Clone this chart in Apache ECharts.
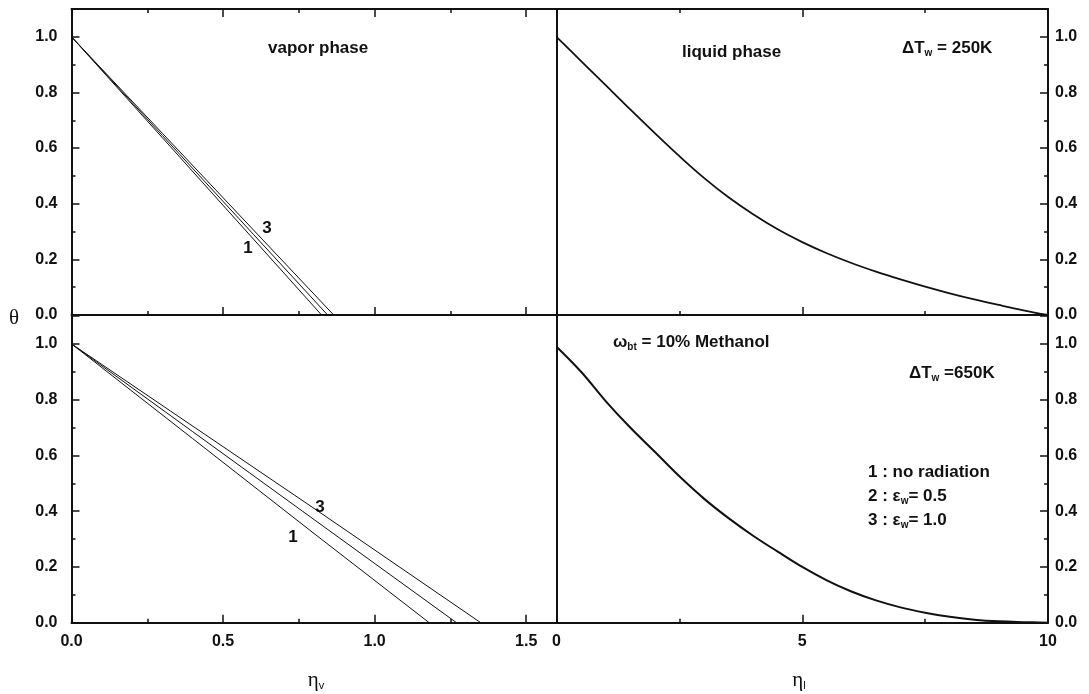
<!DOCTYPE html>
<html>
<head>
<meta charset="utf-8">
<style>html,body{margin:0;padding:0;background:#fff}</style>
</head>
<body>
<div id="chart" style="width:1089px;height:694px"></div>
<script src="https://cdn.jsdelivr.net/npm/echarts@6/dist/echarts.min.js"></script>
<script>
var myChart = echarts.init(document.getElementById('chart'));

// vapor phase, dTw = 250K  (curves 1, 2, 3)
let vapTopEta1 = [0, 0.3, 0.6, 0.825]
let vapTopTheta1 = [1.0, 0.637, 0.273, 0]
let vapTopEta2 = [0, 0.3, 0.6, 0.845]
let vapTopTheta2 = [1.0, 0.645, 0.29, 0]
let vapTopEta3 = [0, 0.3, 0.6, 0.865]
let vapTopTheta3 = [1.0, 0.653, 0.306, 0]

// vapor phase, dTw = 650K
let vapBotEta1 = [0, 0.4, 0.8, 1.18]
let vapBotTheta1 = [1.0, 0.66, 0.32, 0]
let vapBotEta2 = [0, 0.4, 0.8, 1.27]
let vapBotTheta2 = [1.0, 0.685, 0.37, 0]
let vapBotEta3 = [0, 0.4, 0.8, 1.35]
let vapBotTheta3 = [1.0, 0.705, 0.41, 0]

// liquid phase (the three curves coincide)
let liqEta = [0, 0.5, 1, 1.5, 2, 2.5, 3, 3.5, 4, 4.5, 5, 5.5, 6, 6.5, 7, 7.5, 8, 8.5, 9, 9.5, 10]
let liqTopTheta = [1.0, 0.913, 0.826, 0.739, 0.654, 0.571, 0.493, 0.423, 0.362, 0.308, 0.262,
                   0.222, 0.187, 0.156, 0.128, 0.102, 0.078, 0.056, 0.036, 0.017, 0]
let liqBotTheta = [0.99, 0.9, 0.795, 0.7, 0.613, 0.525, 0.445, 0.375, 0.312, 0.255, 0.2,
                   0.152, 0.112, 0.08, 0.055, 0.036, 0.021, 0.011, 0.005, 0.002, 0]

let vapTicks = [0, 0.5, 1.0, 1.5]
let liqTicks = [0, 5, 10]
let thetaTicks = [0, 0.2, 0.4, 0.6, 0.8, 1.0]

const ink = '#111';
const font = 'Liberation Sans';

function pairs(xs, ys) {
    return xs.map((x, i) => [x, ys[i]]);
}

function xAx(grid, max, step, pos, labels, ticks) {
    return {
        type: 'value', gridIndex: grid, min: 0, max: max, interval: step, position: pos,
        axisLine: {show: true, onZero: false, lineStyle: {color: ink, width: 2}},
        axisTick: {show: true, inside: true, length: 8, lineStyle: {color: ink, width: 1.5}},
        minorTick: {show: true, splitNumber: 2, length: 4, lineStyle: {color: ink, width: 1.5}},
        axisLabel: {
            show: labels, margin: 11, color: ink, fontFamily: font, fontWeight: 'bold', fontSize: 16,
            formatter: v => ticks.indexOf(v) >= 0 ? (step < 1 ? v.toFixed(1) : String(v)) : ''
        },
        splitLine: {show: false}, minorSplitLine: {show: false}
    };
}

function yAx(grid, pos, ticksOn, margin) {
    return {
        type: 'value', gridIndex: grid, min: 0, max: 1.1, interval: 0.2, position: pos,
        axisLine: {show: true, onZero: false, lineStyle: {color: ink, width: 2}},
        axisTick: {show: ticksOn, inside: true, length: 8, lineStyle: {color: ink, width: 1.5}},
        minorTick: {show: ticksOn, splitNumber: 2, length: 4, lineStyle: {color: ink, width: 1.5}},
        axisLabel: {
            show: ticksOn, margin: margin, color: ink, fontFamily: font, fontWeight: 'bold', fontSize: 16,
            formatter: v => thetaTicks.some(t => Math.abs(t - v) < 1e-6) ? v.toFixed(1) : ''
        },
        splitLine: {show: false}, minorSplitLine: {show: false}
    };
}

function line(name, data, xi, yi, w) {
    return {
        name: name, type: 'line', data: data, xAxisIndex: xi, yAxisIndex: yi,
        symbol: 'none', smooth: w > 1 ? 0.4 : false, silent: true,
        lineStyle: {color: ink, width: w}
    };
}

const rich = {
    a: {fontFamily: font, fontWeight: 'bold', fontSize: 17, fill: ink, lineHeight: 20},
    s: {fontFamily: font, fontWeight: 'bold', fontSize: 10, fill: ink, lineHeight: 10, padding: [10, 0, 0, 0]},
    G: {fontFamily: 'Liberation Serif', fontSize: 21, fill: ink, lineHeight: 22},
    S: {fontFamily: font, fontSize: 11, fill: ink, lineHeight: 11, padding: [12, 0, 0, 0]}
};

function txt(x, y, text, align) {
    return {
        type: 'text', x: x, y: y, silent: true,
        style: {text: text, rich: rich, align: align || 'left', verticalAlign: 'middle',
                font: 'bold 17px "Liberation Sans"', fill: ink}
    };
}

let option = {
    animation: false,
    grid: [
        {left: 71.5, top: 9, width: 485, height: 306, outerBoundsMode: 'none'},
        {left: 556.5, top: 9, width: 491.5, height: 306, outerBoundsMode: 'none'},
        {left: 71.5, top: 316, width: 485, height: 306.7, outerBoundsMode: 'none'},
        {left: 556.5, top: 316, width: 491.5, height: 306.7, outerBoundsMode: 'none'}
    ],
    xAxis: [
        xAx(0, 1.6, 0.5, 'bottom', false, vapTicks),
        xAx(0, 1.6, 0.5, 'top', false, vapTicks),
        xAx(1, 10, 5, 'bottom', false, liqTicks),
        xAx(1, 10, 5, 'top', false, liqTicks),
        xAx(2, 1.6, 0.5, 'bottom', true, vapTicks),
        xAx(3, 10, 5, 'bottom', true, liqTicks)
    ],
    yAxis: [
        yAx(0, 'left', true, 14),
        yAx(1, 'left', false, 8),
        yAx(1, 'right', true, 7),
        yAx(2, 'left', true, 14),
        yAx(3, 'left', false, 8),
        yAx(3, 'right', true, 7)
    ],
    series: [
        line('1', pairs(vapTopEta1, vapTopTheta1), 0, 0, 1),
        line('2', pairs(vapTopEta2, vapTopTheta2), 0, 0, 1),
        line('3', pairs(vapTopEta3, vapTopTheta3), 0, 0, 1),
        line('liquid 250K', pairs(liqEta, liqTopTheta), 2, 2, 1.8),
        line('1', pairs(vapBotEta1, vapBotTheta1), 4, 3, 1),
        line('2', pairs(vapBotEta2, vapBotTheta2), 4, 3, 1),
        line('3', pairs(vapBotEta3, vapBotTheta3), 4, 3, 1),
        line('liquid 650K', pairs(liqEta, liqBotTheta), 5, 5, 2)
    ],
    graphic: [
        txt(268, 48, '{a|vapor phase}'),
        txt(682, 52, '{a|liquid phase}'),
        txt(902, 48, '{a|\u0394T}{s|w}{a| = 250K}'),
        txt(613, 342, '{a|\u03c9}{s|bt}{a| = 10% Methanol}'),
        txt(909, 373, '{a|\u0394T}{s|w}{a| =650K}'),
        txt(868, 472, '{a|1 : no radiation}'),
        txt(868, 496, '{a|2 : \u03b5}{s|w}{a|= 0.5}'),
        txt(868, 520, '{a|3 : \u03b5}{s|w}{a|= 1.0}'),
        txt(267, 228, '{a|3}', 'center'),
        txt(248, 248, '{a|1}', 'center'),
        txt(320, 507, '{a|3}', 'center'),
        txt(293, 537, '{a|1}', 'center'),
        txt(14, 318, '{G|\u03b8}', 'center'),
        txt(316, 680, '{G|\u03b7}{S|v}', 'center'),
        txt(799, 680, '{G|\u03b7}{S|l}', 'center')
    ]
};
myChart.setOption(option);
</script>
</body>
</html>
